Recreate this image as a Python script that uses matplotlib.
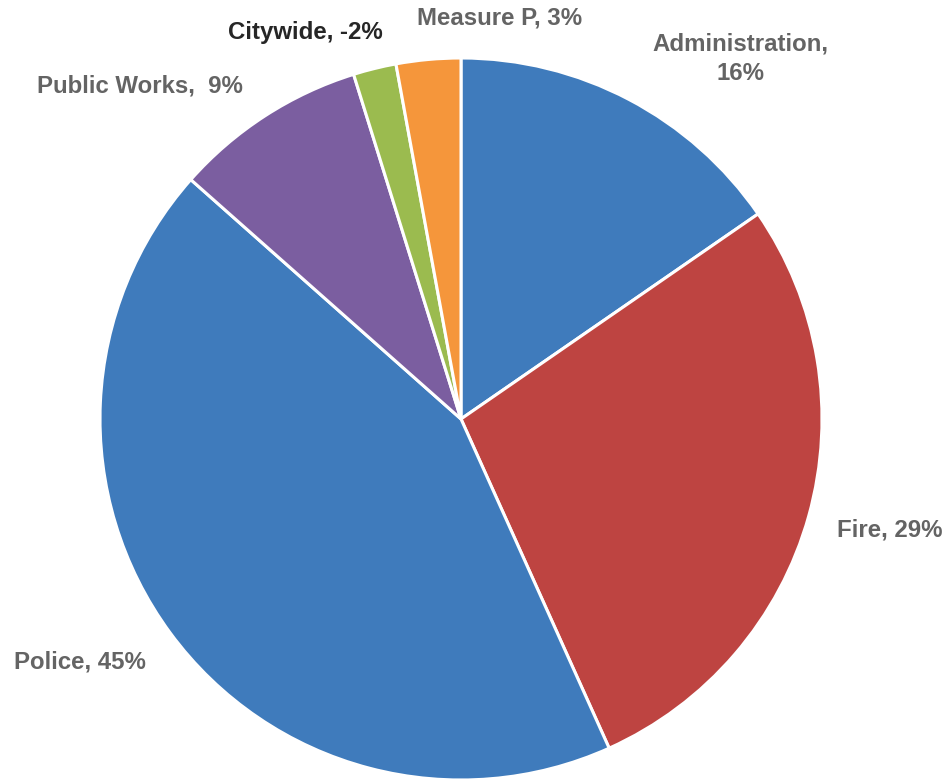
import matplotlib
matplotlib.use("Agg")
import matplotlib.pyplot as plt

categories = ["Administration", "Fire", "Police", "Public Works", "Citywide", "Measure P"]
percent_values = [16, 29, 45, 9, -2, 3]
colors = ["#3F7BBC", "#BE4441", "#3F7BBC", "#7B5EA0", "#9BBB4F", "#F5963B"]
label_colors = ["#646464", "#646464", "#646464", "#646464", "#262626", "#646464"]

W, H = 948, 782
fig = plt.figure(figsize=(W / 100, H / 100), dpi=100)
cx, cy, r = 461, 419, 361
ax = fig.add_axes([(cx - r) / W, (H - cy - r) / H, 2 * r / W, 2 * r / H])

sizes = [abs(v) for v in percent_values]
ax.pie(sizes, colors=colors, startangle=90, counterclock=False, radius=1,
       wedgeprops=dict(edgecolor="white", linewidth=2.2))
ax.set_xlim(-1, 1)
ax.set_ylim(-1, 1)
ax.set_aspect("equal")
ax.axis("off")

# label positions in figure pixels (x, y from top)
label_pos = [(740, 59), (890, 530), (80, 662), (140, 86), (305, 33), (500, 18)]
label_text = ["Administration,\n16%", "Fire, 29%", "Police, 45%", "Public Works,  9%",
              "Citywide, -2%", "Measure P, 3%"]
for (px, py), txt, c in zip(label_pos, label_text, label_colors):
    fig.text(px / W, 1 - py / H, txt, ha="center", va="center", color=c,
             fontsize=17.3, fontweight="bold", family=["Liberation Sans", "DejaVu Sans"],
             linespacing=1.35)

fig.savefig("out.png", dpi=100)
